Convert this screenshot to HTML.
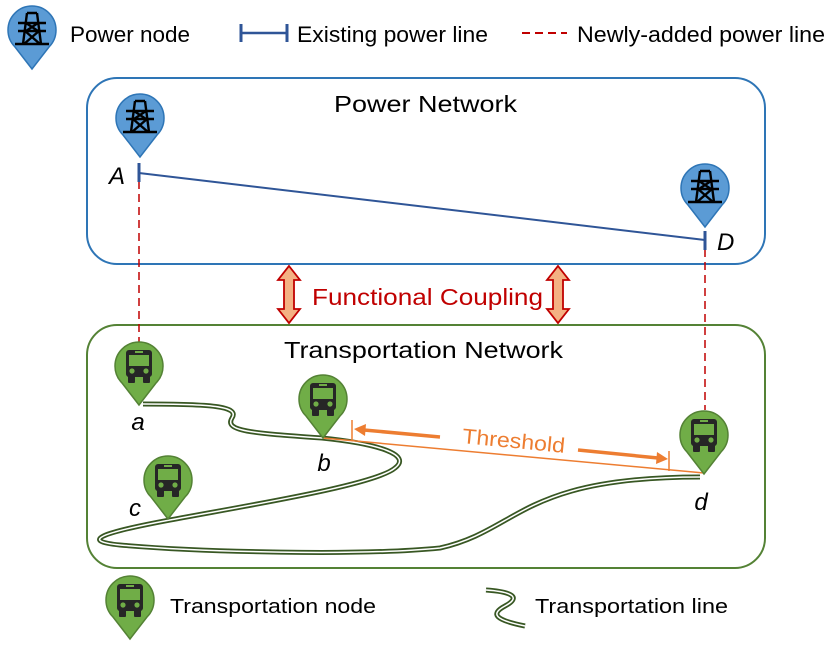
<!DOCTYPE html>
<html><head><meta charset="utf-8"><style>
html,body{margin:0;padding:0;background:#fff;}
svg{display:block;font-family:"Liberation Sans","DejaVu Sans",sans-serif;}
</style></head><body>
<svg width="831" height="648" viewBox="0 0 831 648" xmlns="http://www.w3.org/2000/svg">
<defs>
<g id="pw">
  <path d="M0,39 L-17,17 A24,24 0 1 1 17,17 Z" fill="#5b9bd5" stroke="#2e75b6" stroke-width="1.5"/>
  <g stroke="#000" stroke-width="2.4" fill="none">
    <path d="M-5,-17 H5 M-5,-17 L-9,14 M5,-17 L9,14 M-14,-7 H14 M-14,1 H14 M-17,14 H17 M-7,1 L8,14 M7,1 L-8,14 M-6,-7 L6,1 M6,-7 L-6,1"/>
  </g>
</g>
<g id="bus">
  <path d="M0,39 L-17,17 A24,24 0 1 1 17,17 Z" fill="#70ad47" stroke="#548235" stroke-width="1.5"/>
  <rect x="-13" y="-16" width="26" height="27" rx="3" fill="#262626"/>
  <rect x="-11" y="10" width="7" height="7" rx="1" fill="#262626"/>
  <rect x="4" y="10" width="7" height="7" rx="1" fill="#262626"/>
  <rect x="-4" y="-15" width="8" height="2" fill="#70ad47"/>
  <rect x="-10" y="-11" width="20" height="11" fill="#70ad47"/>
  <circle cx="-7" cy="5" r="2.6" fill="#70ad47"/>
  <circle cx="7" cy="5" r="2.6" fill="#70ad47"/>
</g>
</defs>

<!-- Legend top -->
<use href="#pw" x="32" y="30"/>
<text x="70" y="42" font-size="22" textLength="120" lengthAdjust="spacingAndGlyphs">Power node</text>
<line x1="241" y1="33" x2="287" y2="33" stroke="#2f5597" stroke-width="2.5"/>
<line x1="241" y1="24" x2="241" y2="42" stroke="#2f5597" stroke-width="3"/>
<line x1="287" y1="24" x2="287" y2="42" stroke="#2f5597" stroke-width="3"/>
<text x="297" y="42" font-size="22" textLength="191" lengthAdjust="spacingAndGlyphs">Existing power line</text>
<line x1="522" y1="33" x2="567" y2="33" stroke="#c00000" stroke-width="2" stroke-dasharray="8,5"/>
<text x="577" y="42" font-size="22" textLength="248" lengthAdjust="spacingAndGlyphs">Newly-added power line</text>

<!-- Boxes -->
<rect x="87" y="78" width="678" height="186" rx="30" fill="none" stroke="#2e75b6" stroke-width="2"/>
<rect x="87" y="325" width="678" height="243" rx="30" fill="none" stroke="#548235" stroke-width="2"/>
<text x="334" y="112" font-size="23" textLength="183" lengthAdjust="spacingAndGlyphs">Power Network</text>
<text x="284" y="358" font-size="23" textLength="279" lengthAdjust="spacingAndGlyphs">Transportation Network</text>

<!-- power lines -->
<line x1="139" y1="181" x2="139" y2="345" stroke="#c00000" stroke-width="1.5" stroke-dasharray="8,5"/>
<line x1="705" y1="249" x2="705" y2="410" stroke="#c00000" stroke-width="1.5" stroke-dasharray="8,5"/>
<line x1="139" y1="173" x2="705" y2="240" stroke="#2f5597" stroke-width="2"/>
<line x1="139" y1="163" x2="139" y2="182" stroke="#2f5597" stroke-width="3"/>
<line x1="705" y1="231" x2="705" y2="250" stroke="#2f5597" stroke-width="3"/>
<use href="#pw" x="140" y="118"/>
<use href="#pw" x="705" y="188"/>
<text x="109" y="184" font-size="24" font-style="italic">A</text>
<text x="717" y="250" font-size="24" font-style="italic">D</text>

<!-- coupling -->
<g fill="#f4b183" stroke="#c00000" stroke-width="1.8" stroke-linejoin="miter">
<path d="M289,266 L300,280 L294,280 L294,309 L300,309 L289,323 L278,309 L284,309 L284,280 L278,280 Z"/>
<path d="M558,266 L569,280 L563,280 L563,309 L569,309 L558,323 L547,309 L553,309 L553,280 L547,280 Z"/>
</g>
<text x="312" y="305" font-size="23" fill="#c00000" textLength="231" lengthAdjust="spacingAndGlyphs">Functional Coupling</text>

<!-- transport line -->
<g fill="none">
<path d="M143,404 C210,404 240,406 232,418 C224,431 250,433 322,438 C380,444 412,455 395,468 C375,485 250,505 170,520 C100,533 80,541 120,545 C200,552 360,556 440,548 C520,530 520,477 700,477" stroke="#385723" stroke-width="5"/>
<path d="M143,404 C210,404 240,406 232,418 C224,431 250,433 322,438 C380,444 412,455 395,468 C375,485 250,505 170,520 C100,533 80,541 120,545 C200,552 360,556 440,548 C520,530 520,477 700,477" stroke="#fff" stroke-width="1.5"/>
</g>

<!-- threshold -->
<line x1="323" y1="438" x2="704" y2="473" stroke="#ed7d31" stroke-width="1.5"/>
<line x1="352" y1="420" x2="352" y2="441" stroke="#ed7d31" stroke-width="1.5"/>
<line x1="669" y1="451" x2="669" y2="471" stroke="#ed7d31" stroke-width="1.5"/>
<line x1="364" y1="430" x2="440" y2="437" stroke="#ed7d31" stroke-width="3.5"/>
<path d="M354,429 L366,424 L365,436 Z" fill="#ed7d31"/>
<line x1="578" y1="450" x2="658" y2="458" stroke="#ed7d31" stroke-width="3.5"/>
<path d="M668,459 L656,464 L657,452 Z" fill="#ed7d31"/>
<text x="462" y="448" font-size="21" fill="#ed7d31" textLength="103" lengthAdjust="spacingAndGlyphs" transform="rotate(5.5 514 443)">Threshold</text>

<use href="#bus" x="139" y="366"/>
<use href="#bus" x="323" y="399"/>
<use href="#bus" x="168" y="480"/>
<use href="#bus" x="704" y="435"/>
<text x="138" y="430" font-size="24" font-style="italic" text-anchor="middle">a</text>
<text x="324" y="471" font-size="24" font-style="italic" text-anchor="middle">b</text>
<text x="135" y="516" font-size="24" font-style="italic" text-anchor="middle">c</text>
<text x="701" y="510" font-size="24" font-style="italic" text-anchor="middle">d</text>

<!-- legend bottom -->
<use href="#bus" x="130" y="600"/>
<text x="170" y="613" font-size="20" textLength="206" lengthAdjust="spacingAndGlyphs">Transportation node</text>
<path d="M486,590 C515,592 520,598 505,606 C490,614 495,620 525,626" fill="none" stroke="#385723" stroke-width="5"/>
<path d="M486,590 C515,592 520,598 505,606 C490,614 495,620 525,626" fill="none" stroke="#fff" stroke-width="1.5"/>
<text x="535" y="613" font-size="20" textLength="193" lengthAdjust="spacingAndGlyphs">Transportation line</text>
</svg>
</body></html>
